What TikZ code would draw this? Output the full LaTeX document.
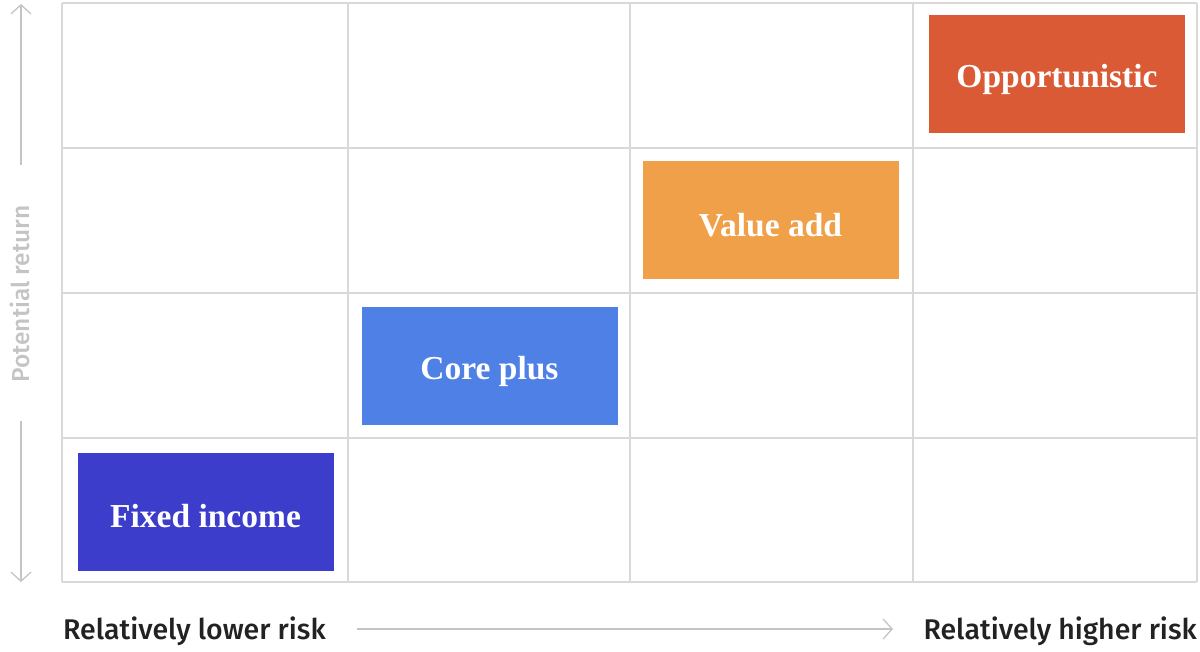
\documentclass[tikz,border=0pt]{standalone}
\usepackage{fontspec}
\setmainfont{Liberation Serif}
\newfontfamily\labfont{Fira Sans}[UprightFont=* Medium]
\usetikzlibrary{arrows.meta}
\definecolor{gridc}{HTML}{D9D9D9}
\definecolor{axisc}{HTML}{C4C4C4}
\definecolor{txtc}{HTML}{222222}
\definecolor{cOpp}{HTML}{DA5A35}
\definecolor{cVal}{HTML}{EFA048}
\definecolor{cCore}{HTML}{4E80E6}
\definecolor{cFix}{HTML}{3D3DCB}
\newcommand\boxtxt[1]{\raisebox{-5pt}[\height][\depth]{#1}}
\tikzset{
  gridline/.style={draw=gridc, line width=2pt},
  catbox/.style={minimum width=256pt, minimum height=118pt, inner sep=0pt, text=white,
     font=\fontsize{33.5}{36}\selectfont\bfseries},
  axisarrow/.style={draw=axisc, line width=1.3pt, -{Straight Barb[length=9pt,width=20pt,line width=1.3pt]}},
  axislabel/.style={font=\labfont\fontsize{28.5}{31}\selectfont, text=txtc, inner sep=0pt},
}
\begin{document}
\begin{tikzpicture}[x=1pt,y=-1pt]
\useasboundingbox (0,0) rectangle (1200,652);
% grid
\foreach \x in {62,348,630,913,1197} \draw[gridline] (\x,3) -- (\x,582);
\foreach \y in {3,148,293,438,582} \draw[gridline] (62,\y) -- (1197,\y);
% boxes
\node[catbox, fill=cFix]  (fix)  at (205.5,511.5) {\boxtxt{Fixed income}};
\node[catbox, fill=cCore] (core) at (489.5,366) {\boxtxt{Core plus}};
\node[catbox, fill=cVal]  (val)  at (770.5,220) {\boxtxt{Value add}};
\node[catbox, fill=cOpp]  (opp)  at (1057,74) {\boxtxt{Opportunistic}};
% y axis
\node[font=\labfont\fontsize{24.5}{26}\selectfont, text=axisc, rotate=90, inner sep=0pt] (ylab) at (20,294) {Potential return};
\coordinate (ytop) at (21,4);
\coordinate (ybot) at (21,582);
\coordinate (yupstart) at (21,165);
\coordinate (ydnstart) at (21,421);
\draw[axisarrow] (yupstart) -- (ytop);
\draw[axisarrow] (ydnstart) -- (ybot);
% x axis
\node[axislabel, anchor=west] (lo) at (63,631) {Relatively lower risk};
\node[axislabel, anchor=east] (hi) at (1197,631) {Relatively higher risk};
\coordinate (xs) at (357,629);
\coordinate (xe) at (893,629);
\draw[axisarrow] (xs) -- (xe);
\end{tikzpicture}
\end{document}
